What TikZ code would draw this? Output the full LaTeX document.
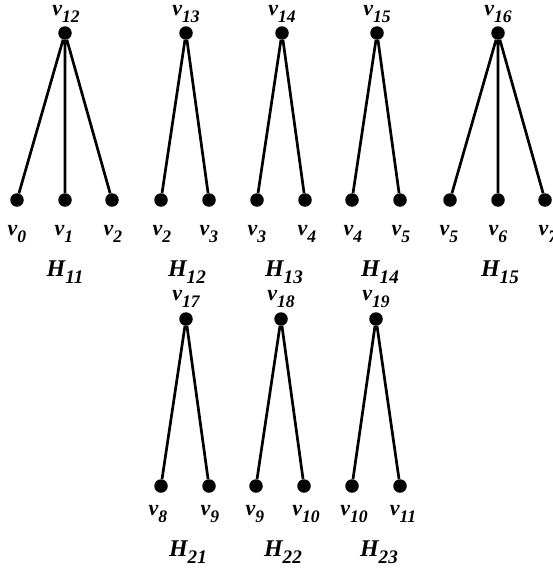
\documentclass[tikz,border=0pt]{standalone}
\usepackage{fontspec}
\setmainfont{Liberation Serif}
\newcommand{\lowsub}[1]{\raisebox{-0.28em}{\scalebox{0.8}{#1}}}
\begin{document}
\begin{tikzpicture}[x=1pt,y=-1pt,
  dot/.style={circle,fill=black,inner sep=0pt,minimum size=13.5pt},
  edge/.style={line width=2.7pt},
  vlab/.style={font=\fontsize{22}{22}\selectfont\bfseries\itshape,inner sep=0pt},
  hlab/.style={font=\fontsize{24}{24}\selectfont\bfseries\itshape,inner sep=0pt}]
\useasboundingbox (0,0) rectangle (552,570);
% ---------- top row ----------
\foreach \n/\x in {t12/65,t13/186,t14/282,t15/377,t16/498}{\node[dot] (\n) at (\x,33) {};}
\foreach \n/\x in {a0/17,a1/65,a2/112,b2/161,b3/209,c3/257,c4/305,d4/352,d5/400,e5/450,e6/498,e7/545}{\node[dot] (\n) at (\x,200) {};}
\draw[edge] (t12) -- (a0) (t12) -- (a1) (t12) -- (a2);
\draw[edge] (t13) -- (b2) (t13) -- (b3);
\draw[edge] (t14) -- (c3) (t14) -- (c4);
\draw[edge] (t15) -- (d4) (t15) -- (d5);
\draw[edge] (t16) -- (e5) (t16) -- (e6) (t16) -- (e7);
\node[vlab] (lt12) at (66,14) {v\lowsub{12}};
\node[vlab] (lt13) at (186,14) {v\lowsub{13}};
\node[vlab] (lt14) at (282,14) {v\lowsub{14}};
\node[vlab] (lt15) at (377,14) {v\lowsub{15}};
\node[vlab] (lt16) at (498,14) {v\lowsub{16}};
\node[vlab] (la0) at (17,234) {v\lowsub{0}};
\node[vlab] (la1) at (64,234) {v\lowsub{1}};
\node[vlab] (la2) at (113,234) {v\lowsub{2}};
\node[vlab] (lb2) at (162,234) {v\lowsub{2}};
\node[vlab] (lb3) at (209,234) {v\lowsub{3}};
\node[vlab] (lc3) at (257,234) {v\lowsub{3}};
\node[vlab] (lc4) at (307,234) {v\lowsub{4}};
\node[vlab] (ld4) at (353,234) {v\lowsub{4}};
\node[vlab] (ld5) at (401,234) {v\lowsub{5}};
\node[vlab] (le5) at (449,234) {v\lowsub{5}};
\node[vlab] (le6) at (498,234) {v\lowsub{6}};
\node[vlab] (le7) at (548,234) {v\lowsub{7}};
\node[hlab] (h11) at (65,272) {H\lowsub{11}};
\node[hlab] (h12) at (187,272) {H\lowsub{12}};
\node[hlab] (h13) at (284,272) {H\lowsub{13}};
\node[hlab] (h14) at (380,272) {H\lowsub{14}};
\node[hlab] (h15) at (500,272) {H\lowsub{15}};
% ---------- bottom row ----------
\foreach \n/\x in {t17/186,t18/281,t19/376}{\node[dot] (\n) at (\x,319) {};}
\foreach \n/\x in {f8/161,f9/209,g9/256,g10/304,k10/352,k11/400}{\node[dot] (\n) at (\x,486) {};}
\draw[edge] (t17) -- (f8) (t17) -- (f9);
\draw[edge] (t18) -- (g9) (t18) -- (g10);
\draw[edge] (t19) -- (k10) (t19) -- (k11);
\node[vlab] (lt17) at (186,299) {v\lowsub{17}};
\node[vlab] (lt18) at (281,299) {v\lowsub{18}};
\node[vlab] (lt19) at (376,299) {v\lowsub{19}};
\node[vlab] (lf8) at (158,514) {v\lowsub{8}};
\node[vlab] (lf9) at (210,514) {v\lowsub{9}};
\node[vlab] (lg9) at (255,514) {v\lowsub{9}};
\node[vlab] (lg10) at (306,514) {v\lowsub{10}};
\node[vlab] (lk10) at (354,514) {v\lowsub{10}};
\node[vlab] (lk11) at (403,514) {v\lowsub{11}};
\node[hlab] (h21) at (188,552) {H\lowsub{21}};
\node[hlab] (h22) at (283,552) {H\lowsub{22}};
\node[hlab] (h23) at (379,552) {H\lowsub{23}};
\end{tikzpicture}
\end{document}
